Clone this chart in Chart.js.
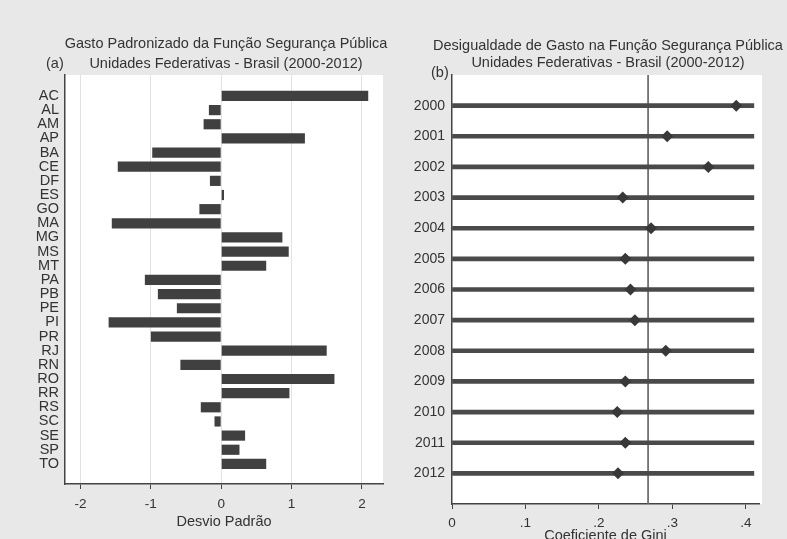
<!DOCTYPE html>
<html>
<head>
<meta charset="utf-8">
<script src="https://cdn.jsdelivr.net/npm/chart.js@4.4.0/dist/chart.umd.min.js"></script>
<style>
  body { margin: 0; background: #e8e8e8; }
  #wrap { position: relative; width: 787px; height: 539px; overflow: hidden; background: #e8e8e8;
          font-family: "Liberation Sans", Arial, sans-serif; color: #333; }
  canvas { position: absolute; top: 0; }
  .t { position: absolute; font-size: 14.5px; white-space: nowrap; line-height: 16px; }
  .c { transform: translateX(-50%); }
</style>
</head>
<body>
<div id="wrap">
  <canvas id="chartA" width="395" height="539" style="left:0"></canvas>
  <canvas id="chartB" width="392" height="539" style="left:395px"></canvas>
  <div class="t c" style="left:226px; top:35px">Gasto Padronizado da Função Segurança Pública</div>
  <div class="t c" style="left:226px; top:55px">Unidades Federativas - Brasil (2000-2012)</div>
  <div class="t" style="left:46px; top:55px">(a)</div>
  <div class="t c" style="left:608px; top:37px">Desigualdade de Gasto na Função Segurança Pública</div>
  <div class="t c" style="left:608px; top:54px">Unidades Federativas - Brasil (2000-2012)</div>
  <div class="t" style="left:431px; top:64px">(b)</div>
</div>
<script>
// painel (a): desvio padrao por UF
var states = ['AC','AL','AM','AP','BA','CE','DF','ES','GO','MA','MG','MS','MT','PA','PB','PE','PI','PR','RJ','RN','RO','RR','RS','SC','SE','SP','TO'];
var desvio = [2.09,-0.175,-0.25,1.19,-0.98,-1.47,-0.16,0.04,-0.31,-1.555,0.87,0.96,0.64,-1.085,-0.90,-0.63,-1.60,-1.0,1.50,-0.58,1.61,0.97,-0.29,-0.095,0.34,0.26,0.64];
var desvioTicks = [-2,-1,0,1,2];

// painel (b): coeficiente de Gini por ano
var years = ['2000','2001','2002','2003','2004','2005','2006','2007','2008','2009','2010','2011','2012'];
var gini = [0.387,0.293,0.349,0.2325,0.271,0.236,0.243,0.249,0.291,0.236,0.225,0.236,0.226];
var giniMedia = 0.267;
var giniLineEnd = 0.411;
var giniTicks = [0,0.1,0.2,0.3,0.4];

var FONT = '"Liberation Sans", Arial, sans-serif';
var TXT = '#333';
var AXIS = '#444';

Chart.defaults.font.family = FONT;
Chart.defaults.color = TXT;
Chart.defaults.animation = false;

var whitePlot = {
  id: 'whitePlot',
  beforeDraw: function(chart) {
    var a = chart.chartArea, ctx = chart.ctx;
    ctx.save();
    ctx.fillStyle = '#fff';
    ctx.fillRect(a.left, a.top, a.right - a.left + (chart.options.plugins.whitePlot.extra || 0), a.bottom - a.top);
    ctx.restore();
  }
};

// (a)
new Chart(document.getElementById('chartA'), {
  type: 'bar',
  data: {
    datasets: [{
      data: states.map(function(s, i){ return {x: desvio[i], y: i}; }),
      backgroundColor: '#404040',
      borderWidth: 0,
      barPercentage: 0.9,
      categoryPercentage: 0.8
    }]
  },
  options: {
    indexAxis: 'y',
    responsive: false,
    layout: { padding: { left: 0, right: 12, top: 75, bottom: 8 } },
    plugins: { legend: { display: false }, tooltip: { enabled: false }, whitePlot: {} },
    scales: {
      x: {
        type: 'linear', min: -2.22, max: 2.30,
        afterBuildTicks: function(ax){ ax.ticks = desvioTicks.map(function(v){ return {value: v}; }); },
        afterFit: function(ax){ ax.height = 47; },
        grid: { color: '#e2e2e2', tickColor: AXIS, tickLength: 5, lineWidth: 1 },
        border: { color: AXIS, width: 1.5 },
        ticks: { font: { size: 13.5 }, color: TXT, padding: 7 },
        title: { display: true, text: 'Desvio Padrão', font: { size: 14.5 }, color: TXT, padding: { top: 0, bottom: 0 } }
      },
      y: {
        type: 'linear', reverse: true, offset: false, min: -1.48, max: 27.42,
        afterBuildTicks: function(ax){ ax.ticks = states.map(function(s, i){ return {value: i}; }); },
        afterFit: function(ax){ ax.width = 65; },
        grid: { display: false, drawTicks: false },
        border: { color: AXIS, width: 1.5 },
        ticks: { autoSkip: false, font: { size: 14.5 }, color: TXT, padding: 6,
                 callback: function(v){ return states[v]; } }
      }
    }
  },
  plugins: [whitePlot]
});

// (b)
new Chart(document.getElementById('chartB'), {
  type: 'bar',
  data: {
    datasets: [
      {
        type: 'scatter',
        data: gini.map(function(g, i){ return {x: g, y: i}; }),
        pointStyle: 'rectRot',
        pointRadius: 6,
        backgroundColor: '#383838',
        borderWidth: 0,
        order: 1
      },
      {
        type: 'bar',
        data: years.map(function(y, i){ return {x: [0, giniLineEnd], y: i}; }),
        backgroundColor: '#4a4a4a',
        borderWidth: 0,
        barThickness: 4,
        order: 2
      },
      {
        type: 'line',
        data: [{x: giniMedia, y: -1}, {x: giniMedia, y: 13}],
        borderColor: '#6a6a6a',
        borderWidth: 1,
        pointRadius: 0,
        order: 3
      }
    ]
  },
  options: {
    indexAxis: 'y',
    responsive: false,
    layout: { padding: { left: 0, right: 28, top: 75, bottom: -6 } },
    plugins: { legend: { display: false }, tooltip: { enabled: false }, whitePlot: { extra: 3 } },
    scales: {
      x: {
        type: 'linear', min: 0, max: 0.418,
        afterBuildTicks: function(ax){ ax.ticks = giniTicks.map(function(v){ return {value: v}; }); },
        afterFit: function(ax){ ax.height = 41; },
        grid: { drawOnChartArea: false, tickColor: AXIS, tickLength: 5 },
        border: { color: AXIS, width: 1.5 },
        ticks: { font: { size: 13.5 }, color: TXT, padding: 6,
                 callback: function(v){ return v === 0 ? '0' : '.' + Math.round(v * 10); } },
        title: { display: true, text: 'Coeficiente de Gini', font: { size: 14.5 }, color: TXT, padding: { top: 0, bottom: 0 } }
      },
      y: {
        type: 'linear', reverse: true, offset: false, min: -1, max: 13,
        afterBuildTicks: function(ax){ ax.ticks = years.map(function(y, i){ return {value: i}; }); },
        afterFit: function(ax){ ax.width = 57; },
        grid: { display: false, drawTicks: false },
        border: { color: AXIS, width: 1.5 },
        ticks: { autoSkip: false, font: { size: 14 }, color: TXT, padding: 7,
                 callback: function(v){ return years[v]; } }
      }
    }
  },
  plugins: [whitePlot]
});
</script>
</body>
</html>
